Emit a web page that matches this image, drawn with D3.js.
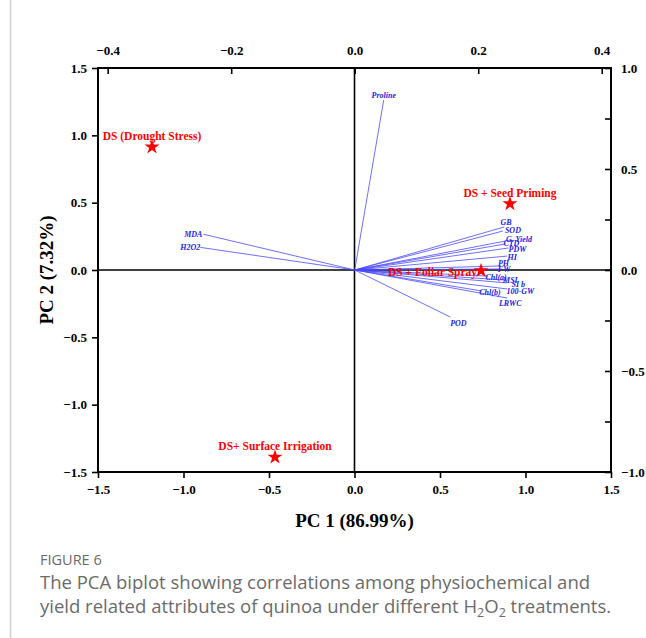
<!DOCTYPE html>
<html>
<head>
<meta charset="utf-8">
<script src="https://cdn.jsdelivr.net/npm/d3@7"></script>
<style>
  body { margin: 0; background: #fff; }
  svg text { font-family: "Liberation Serif", "Times New Roman", serif; }
</style>
</head>
<body>
<svg id="biplot" width="646" height="638"></svg>
<script>
// treatment scores (bottom / left axes)
const treatments = ["DS (Drought Stress)", "DS + Seed Priming", "DS + Foliar Spray", "DS+ Surface Irrigation"]
const pc1Scores = [-1.184, 0.909, 0.74, -0.465]
const pc2Scores = [0.913, 0.492, -0.005, -1.39]

// variable loadings (top / right axes)
const variables = ["Proline", "MDA", "H2O2", "GB", "SOD", "G. Yield", "CTD", "PDW", "HI", "PH", "FW",
  "Chl(a)", "MSI", "SI b", "100-GW", "Chl(b)", "LRWC", "POD"]
const pc1Loadings = [0.047, -0.245, -0.250, 0.242, 0.240, 0.245, 0.244, 0.249, 0.247, 0.236, 0.237,
  0.216, 0.244, 0.247, 0.247, 0.206, 0.247, 0.155]
const pc2Loadings = [0.842, 0.177, 0.112, 0.213, 0.193, 0.144, 0.129, 0.109, 0.069, 0.020, 0.005,
  -0.030, -0.050, -0.064, -0.094, -0.104, -0.139, -0.233]

// tick values
const bottomTicks = [-1.5, -1.0, -0.5, 0.0, 0.5, 1.0, 1.5]
const leftTicks = [-1.5, -1.0, -0.5, 0.0, 0.5, 1.0, 1.5]
const topTicks = [-0.4, -0.2, 0.0, 0.2, 0.4]
const rightTicks = [-1.0, -0.75, -0.5, -0.25, 0.0, 0.25, 0.5, 0.75, 1.0]
const rightLabels = [-1.0, -0.5, 0.0, 0.5, 1.0]

// label nudges so the crowded names sit like the original
const labelNudge = {
  "Proline": [0, -5, "middle"], "MDA": [-1, 0, "end"], "H2O2": [0, 0, "end"],
  "GB": [2, -5, "middle"], "SOD": [10, -1, "middle"], "G. Yield": [13, -2, "middle"],
  "CTD": [6, -1, "middle"], "PDW": [9, 1, "middle"], "HI": [5, 1, "middle"],
  "PH": [3, -3, "middle"], "FW": [3, 0, "middle"], "Chl(a)": [8, 1, "middle"],
  "MSI": [5, 0, "middle"], "SI b": [11, 1, "middle"], "100-GW": [13, 2, "middle"],
  "Chl(b)": [8, 1, "middle"], "LRWC": [3, 5, "middle"], "POD": [8, 6, "middle"]
}

const svg = d3.select("#biplot")
const m = { left: 98, right: 611, top: 68, bottom: 472 }

const x = d3.scaleLinear().domain([-1.5, 1.5]).range([m.left, m.right])
const y = d3.scaleLinear().domain([-1.5, 1.5]).range([m.bottom, m.top])
const xTop = d3.scaleLinear().domain([-0.4157, 0.4150]).range([m.left, m.right])
const yRight = d3.scaleLinear().domain([-1.0, 1.0]).range([m.bottom, m.top])

// card border on the left
svg.append("line")
  .attr("x1", 10.5).attr("x2", 10.5).attr("y1", 0).attr("y2", 638)
  .attr("stroke", "#d0d0d0").attr("stroke-width", 1.5)

const styleAxis = (g, size) => {
  g.select(".domain").remove()
  g.selectAll(".tick line").attr("stroke", "#000").attr("stroke-width", 1.6)
  g.selectAll(".tick text")
    .attr("font-family", "Liberation Serif, serif")
    .attr("font-weight", "bold")
    .attr("font-size", size)
    .attr("fill", "#000")
}
const fmt = d => d3.format(".1f")(d).replace("-", "\u2212")

svg.append("g")
  .attr("transform", `translate(0,${m.bottom})`)
  .call(d3.axisBottom(x).tickValues(bottomTicks).tickFormat(fmt).tickSize(6).tickPadding(7))
  .call(g => styleAxis(g, 13))

svg.append("g")
  .attr("transform", `translate(${m.left},0)`)
  .call(d3.axisLeft(y).tickValues(leftTicks).tickFormat(fmt).tickSize(6).tickPadding(5))
  .call(g => styleAxis(g, 13))

svg.append("g")
  .attr("transform", `translate(0,${m.top})`)
  .call(d3.axisTop(xTop).tickValues(topTicks).tickFormat(fmt).tickSizeInner(-6).tickSizeOuter(0).tickPadding(13))
  .call(g => styleAxis(g, 13))

svg.append("g")
  .attr("transform", `translate(${m.right},0)`)
  .call(d3.axisRight(yRight).tickValues(rightTicks)
    .tickFormat(d => rightLabels.includes(d) ? fmt(d) : "")
    .tickSizeInner(-6).tickSizeOuter(0).tickPadding(10))
  .call(g => styleAxis(g, 13))

// frame
svg.append("rect")
  .attr("x", m.left).attr("y", m.top)
  .attr("width", m.right - m.left).attr("height", m.bottom - m.top)
  .attr("fill", "none").attr("stroke", "#000").attr("stroke-width", 2)

// zero lines
svg.append("line")
  .attr("x1", m.left).attr("x2", m.right).attr("y1", y(0)).attr("y2", y(0))
  .attr("stroke", "#000").attr("stroke-width", 1.6)
svg.append("line")
  .attr("x1", x(0)).attr("x2", x(0)).attr("y1", m.top).attr("y2", m.bottom)
  .attr("stroke", "#000").attr("stroke-width", 1.6)

// loading vectors
const vecData = variables.map((v, i) => ({ name: v, px: pc1Loadings[i], py: pc2Loadings[i] }))

svg.append("g")
  .selectAll("line")
  .data(vecData)
  .enter().append("line")
    .attr("x1", xTop(0)).attr("y1", yRight(0))
    .attr("x2", d => xTop(d.px)).attr("y2", d => yRight(d.py))
    .attr("stroke", "#4a4aff").attr("stroke-width", 0.8)

svg.append("g")
  .selectAll("text")
  .data(vecData)
  .enter().append("text")
    .attr("x", d => xTop(d.px) + labelNudge[d.name][0])
    .attr("y", d => yRight(d.py) + labelNudge[d.name][1])
    .attr("dy", "0.35em")
    .attr("text-anchor", d => labelNudge[d.name][2])
    .attr("font-size", 8)
    .attr("font-weight", "bold")
    .attr("font-style", "italic")
    .attr("fill", "#2424e6")
    .text(d => d.name)

// treatment scores
const scoreData = treatments.map((t, i) => ({ name: t, sx: pc1Scores[i], sy: pc2Scores[i] }))

svg.append("g")
  .selectAll("path")
  .data(scoreData)
  .enter().append("path")
    .attr("transform", d => `translate(${x(d.sx)},${y(d.sy)})`)
    .attr("d", d3.symbol().type(d3.symbolStar).size(70))
    .attr("fill", "#ff0000")

svg.append("g")
  .selectAll("text")
  .data(scoreData)
  .enter().append("text")
    .attr("x", d => d.name === "DS + Foliar Spray" ? x(d.sx) - 4 : x(d.sx))
    .attr("y", d => d.name === "DS + Foliar Spray" ? y(d.sy) + 1 : y(d.sy) - 11)
    .attr("dy", "0.35em")
    .attr("text-anchor", d => d.name === "DS + Foliar Spray" ? "end" : "middle")
    .attr("font-size", 11.5)
    .attr("font-weight", "bold")
    .attr("fill", "#ff0000")
    .text(d => d.name)

// axis titles
svg.append("text")
  .attr("x", x(0)).attr("y", 527)
  .attr("text-anchor", "middle")
  .attr("font-size", 19).attr("font-weight", "bold")
  .text("PC 1 (86.99%)")

svg.append("text")
  .attr("transform", `translate(53,${y(0)}) rotate(-90)`)
  .attr("text-anchor", "middle")
  .attr("font-size", 19).attr("font-weight", "bold")
  .text("PC 2 (7.32%)")

// caption
const cap = svg.append("g")
  .attr("fill", "#6b6b6b")
cap.append("text")
  .attr("x", 40).attr("y", 565)
  .attr("font-size", 14.5)
  .style("font-family", "'Open Sans', sans-serif")
  .text("FIGURE 6")
cap.append("text")
  .attr("x", 40).attr("y", 589)
  .attr("font-size", 18.5)
  .style("font-family", "'Open Sans', sans-serif")
  .text("The PCA biplot showing correlations among physiochemical and")
const line2 = cap.append("text")
  .attr("x", 40).attr("y", 613)
  .attr("font-size", 18.5)
  .style("font-family", "'Open Sans', sans-serif")
line2.append("tspan").text("yield related attributes of quinoa under different H")
line2.append("tspan").attr("font-size", 12.5).attr("dy", 4).text("2")
line2.append("tspan").attr("dy", -4).text("O")
line2.append("tspan").attr("font-size", 12.5).attr("dy", 4).text("2")
line2.append("tspan").attr("dy", -4).text(" treatments.")
</script>
</body>
</html>
